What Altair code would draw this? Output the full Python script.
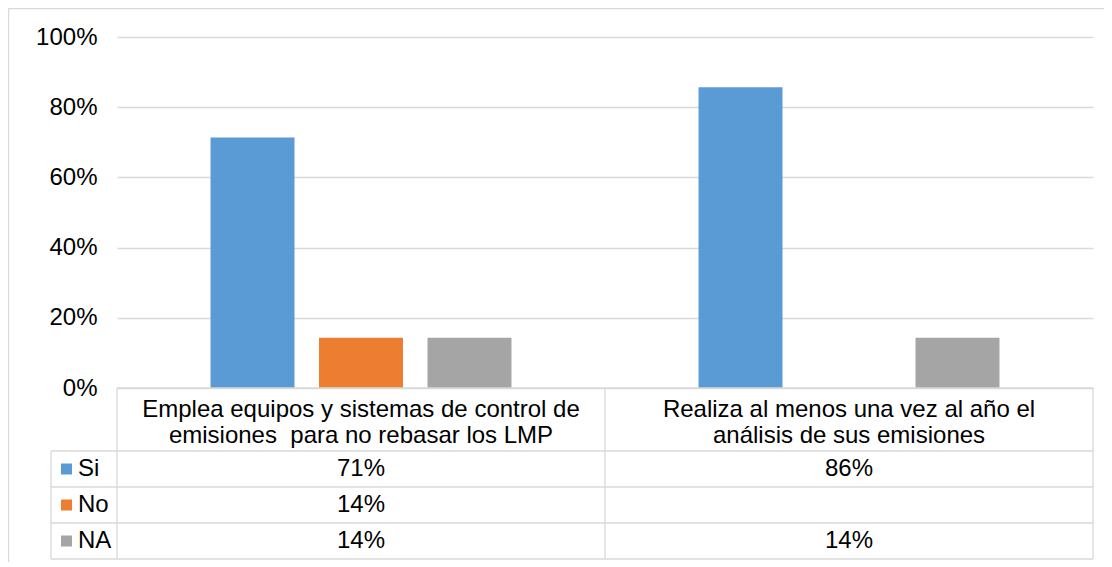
import altair as alt
import pandas as pd

# ---- data ----
categories = ["c1", "c2"]
header_line1 = ["Emplea equipos y sistemas de control de", "Realiza al menos una vez al año el"]
header_line2 = ["emisiones \u00a0para no rebasar los LMP", "análisis de sus emisiones"]
series = ["Si", "No", "NA"]
si_values = [0.714, 0.857]
no_values = [0.143, None]
na_values = [0.143, 0.143]
colors = ["#5b9bd5", "#ed7d31", "#a5a5a5"]
y_ticks = [0, 0.2, 0.4, 0.6, 0.8, 1.0]

FONT = "Liberation Sans"
FS = 24
GRID = "#d9d9d9"

rows = []
for s, vals in zip(series, [si_values, no_values, na_values]):
    for c, v in zip(categories, vals):
        rows.append({"cat": c, "series": s, "value": v})
df = pd.DataFrame(rows)
bars_df = df.dropna()

head_df = pd.DataFrame({"cat": categories, "l1": header_line1, "l2": header_line2})
leg_df = pd.DataFrame({"series": series})

W, H = 976, 351

xscale = alt.Scale(domain=categories, paddingInner=0, paddingOuter=0)

bars = alt.Chart(bars_df).mark_bar().encode(
    x=alt.X("cat:N", scale=xscale, axis=None),
    xOffset=alt.XOffset("series:N", scale=alt.Scale(domain=series, paddingInner=0.226, paddingOuter=0.862)),
    y=alt.Y("value:Q", scale=alt.Scale(domain=[0, 1], nice=False),
            axis=alt.Axis(values=y_ticks, format=".0%", title=None, ticks=False, domain=False,
                          labelFont=FONT, labelFontSize=FS, labelColor="#000000", labelPadding=20,
                          gridColor=GRID, gridWidth=1.3)),
    color=alt.Color("series:N", scale=alt.Scale(domain=series, range=colors), legend=None),
)

def rule(x, x2, y, y2, width=1.3):
    return alt.Chart(pd.DataFrame({"k": [0]})).mark_rule(color=GRID, strokeWidth=width).encode(
        x=alt.value(x), x2=alt.value(x2), y=alt.value(y), y2=alt.value(y2))

row_y = [432, 468, 504]
hlines = [414, 450, 486, 522]
layers = [bars]
# outer frame (left and top)
layers.append(rule(-108.5, -108.5, -28.5, 560))
layers.append(rule(-108.5, 1100, -28.5, -28.5))
# table borders
layers.append(rule(0, W, H, H))
for yy in hlines:
    layers.append(rule(-66, W, yy, yy))
layers.append(rule(-66, -66, 414, 522))
layers.append(rule(0, 0, H, 522))
layers.append(rule(W / 2, W / 2, H, 522))
layers.append(rule(W, W, H, 522))

# header text
for fld, yy in [("l1", 373), ("l2", 399)]:
    layers.append(alt.Chart(head_df).mark_text(font=FONT, fontSize=FS, color="#000000", baseline="middle").encode(
        x=alt.X("cat:N", scale=xscale, axis=None), y=alt.value(yy), text=f"{fld}:N"))

# values rows + legend column
for s, col, yy in zip(series, colors, row_y):
    sub = df[(df["series"] == s)].dropna()
    layers.append(alt.Chart(sub).mark_text(font=FONT, fontSize=FS, color="#000000", baseline="middle").encode(
        x=alt.X("cat:N", scale=xscale, axis=None), y=alt.value(yy),
        text=alt.Text("value:Q", format=".0%")))
    lsub = leg_df[leg_df["series"] == s]
    layers.append(alt.Chart(lsub).mark_square(size=121, opacity=1, color=col).encode(
        x=alt.value(-50.5), y=alt.value(yy)))
    layers.append(alt.Chart(lsub).mark_text(font=FONT, fontSize=FS, color="#000000", align="left", baseline="middle").encode(
        x=alt.value(-39), y=alt.value(yy), text="series:N"))

chart = alt.layer(*layers).properties(
    width=W, height=H,
    autosize=alt.AutoSizeParams(type="none"),
    padding={"left": 109, "top": 29, "right": 11, "bottom": 174},
).configure_view(stroke=None)

chart.save("out.html", embed_options={"renderer": "svg", "actions": False})
